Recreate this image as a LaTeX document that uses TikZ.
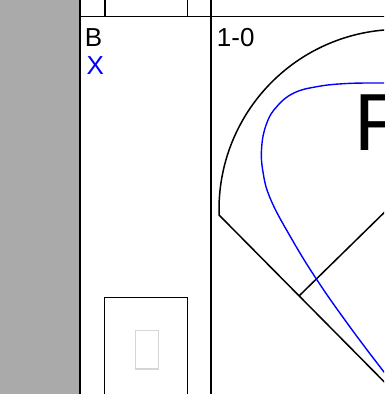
\documentclass[tikz,border=0pt]{standalone}
\usepackage{fontspec}
\setmainfont{Liberation Sans}
\definecolor{margingray}{HTML}{AAAAAA}
\definecolor{cardgray}{HTML}{D6D6D6}
\begin{document}
\begin{tikzpicture}[x=1pt,y=-1pt,line width=1.5pt,
  lbl/.style={inner sep=0pt,anchor=base west,font=\fontsize{26}{30}\selectfont}]

\useasboundingbox (0,0) rectangle (384,394);
\clip (0,0) rectangle (384,394);

% Grey margin
\fill[margingray] (0,0) rectangle (80,394);

% Frame lines
\draw (80,-5)--(80,400);
\draw (211,-5)--(211,400);
\draw (80,16.7)--(390,16.7);
\draw (105,-5)--(105,16.7);
\draw (187.3,-5)--(187.3,16.7);

% Count
\node[lbl] (ball) at (84.1,46.5) {B};
\node[lbl,text=blue] (mark) at (85.8,74) {X};
\node[lbl] (score) at (216.2,46.5) {1-0};

% Field: foul line and fence
\draw (402,399.8) -- plot[domain=181.8:70,samples=90]
  ({399+180*cos(\x)},{209.4-180*sin(\x)});

% Field: base path
\draw (299.3,295.7) -- (402,195.1);

% Spray contour
\draw[blue,line width=1.4pt] plot[smooth,tension=0.7] coordinates
  {(400,83) (384,83) (347,83.5) (316.7,86.7) (293.3,93.3) (276.7,106.7)
   (266.7,123.3) (261.7,146.7) (263,172) (270.5,199) (290,236)
   (316.7,279.5) (350,327) (384,372) (400,392)};

% Zone letter
\node[inner sep=0pt,anchor=base west,font=\fontsize{81}{90}\selectfont]
  (zone) at (353.5,150) {F};

% Lineup card
\draw (104.7,297.3) rectangle (187.3,400);
\draw[cardgray,line width=1.3pt] (135.7,330.7) rectangle (158.3,369);

\end{tikzpicture}
\end{document}
